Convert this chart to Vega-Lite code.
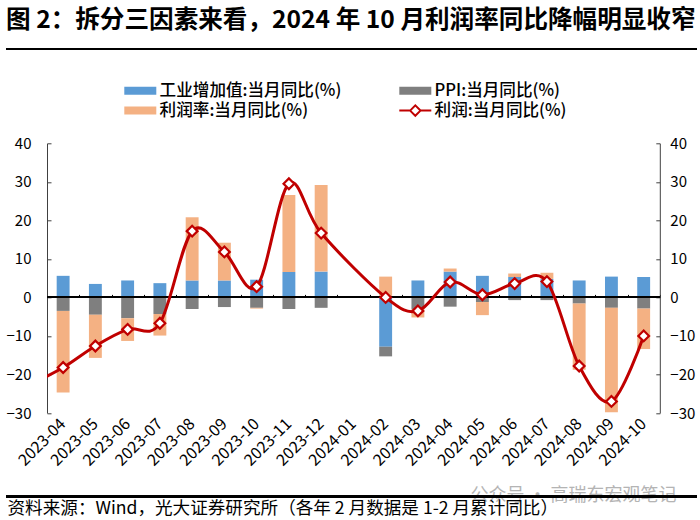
{
"$schema":"https://vega.github.io/schema/vega-lite/v6.json",
"width":612.8,"height":269.7,
"autosize":"none",
"padding":{"left":47,"top":143.3,"right":40.2,"bottom":107},
"background":"white",
"title":{"text":"图 2：拆分三因素来看，2024 年 10 月利润率同比降幅明显收窄","anchor":"start","frame":"group","dx":-41,"dy":10,"offset":0,"font":"Noto Sans CJK SC","fontSize":24.6,"fontWeight":"bold","color":"#000000","baseline":"bottom"},
"config":{"view":{"stroke":null},"font":"Noto Sans CJK SC"},
"datasets":{
"bars":[
{"month":"2023-04","series":"工业增加值:当月同比(%)","n":1,"value":5.6},{"month":"2023-04","series":"PPI:当月同比(%)","n":2,"value":-3.5},{"month":"2023-04","series":"利润率:当月同比(%)","n":3,"value":-21.2},
{"month":"2023-05","series":"工业增加值:当月同比(%)","n":1,"value":3.5},{"month":"2023-05","series":"PPI:当月同比(%)","n":2,"value":-4.5},{"month":"2023-05","series":"利润率:当月同比(%)","n":3,"value":-11.2},
{"month":"2023-06","series":"工业增加值:当月同比(%)","n":1,"value":4.4},{"month":"2023-06","series":"PPI:当月同比(%)","n":2,"value":-5.4},{"month":"2023-06","series":"利润率:当月同比(%)","n":3,"value":-5.9},
{"month":"2023-07","series":"工业增加值:当月同比(%)","n":1,"value":3.7},{"month":"2023-07","series":"PPI:当月同比(%)","n":2,"value":-4.3},{"month":"2023-07","series":"利润率:当月同比(%)","n":3,"value":-5.6},
{"month":"2023-08","series":"工业增加值:当月同比(%)","n":1,"value":4.4},{"month":"2023-08","series":"PPI:当月同比(%)","n":2,"value":-3.0},{"month":"2023-08","series":"利润率:当月同比(%)","n":3,"value":16.4},
{"month":"2023-09","series":"工业增加值:当月同比(%)","n":1,"value":4.4},{"month":"2023-09","series":"PPI:当月同比(%)","n":2,"value":-2.5},{"month":"2023-09","series":"利润率:当月同比(%)","n":3,"value":9.8},
{"month":"2023-10","series":"工业增加值:当月同比(%)","n":1,"value":4.6},{"month":"2023-10","series":"PPI:当月同比(%)","n":2,"value":-2.7},{"month":"2023-10","series":"利润率:当月同比(%)","n":3,"value":-0.2},
{"month":"2023-11","series":"工业增加值:当月同比(%)","n":1,"value":6.6},{"month":"2023-11","series":"PPI:当月同比(%)","n":2,"value":-3.0},{"month":"2023-11","series":"利润率:当月同比(%)","n":3,"value":20.0},
{"month":"2023-12","series":"工业增加值:当月同比(%)","n":1,"value":6.7},{"month":"2023-12","series":"PPI:当月同比(%)","n":2,"value":-2.7},{"month":"2023-12","series":"利润率:当月同比(%)","n":3,"value":22.5},
{"month":"2024-02","series":"工业增加值:当月同比(%)","n":1,"value":-12.8},{"month":"2024-02","series":"PPI:当月同比(%)","n":2,"value":-2.5},{"month":"2024-02","series":"利润率:当月同比(%)","n":3,"value":5.4},
{"month":"2024-03","series":"工业增加值:当月同比(%)","n":1,"value":4.4},{"month":"2024-03","series":"PPI:当月同比(%)","n":2,"value":-3.0},{"month":"2024-03","series":"利润率:当月同比(%)","n":3,"value":-2.2},
{"month":"2024-04","series":"工业增加值:当月同比(%)","n":1,"value":6.7},{"month":"2024-04","series":"PPI:当月同比(%)","n":2,"value":-2.4},{"month":"2024-04","series":"利润率:当月同比(%)","n":3,"value":0.8},
{"month":"2024-05","series":"工业增加值:当月同比(%)","n":1,"value":5.6},{"month":"2024-05","series":"PPI:当月同比(%)","n":2,"value":-1.2},{"month":"2024-05","series":"利润率:当月同比(%)","n":3,"value":-3.4},
{"month":"2024-06","series":"工业增加值:当月同比(%)","n":1,"value":5.3},{"month":"2024-06","series":"PPI:当月同比(%)","n":2,"value":-0.7},{"month":"2024-06","series":"利润率:当月同比(%)","n":3,"value":0.9},
{"month":"2024-07","series":"工业增加值:当月同比(%)","n":1,"value":4.8},{"month":"2024-07","series":"PPI:当月同比(%)","n":2,"value":-0.7},{"month":"2024-07","series":"利润率:当月同比(%)","n":3,"value":1.6},
{"month":"2024-08","series":"工业增加值:当月同比(%)","n":1,"value":4.4},{"month":"2024-08","series":"PPI:当月同比(%)","n":2,"value":-1.6},{"month":"2024-08","series":"利润率:当月同比(%)","n":3,"value":-17.2},
{"month":"2024-09","series":"工业增加值:当月同比(%)","n":1,"value":5.4},{"month":"2024-09","series":"PPI:当月同比(%)","n":2,"value":-2.7},{"month":"2024-09","series":"利润率:当月同比(%)","n":3,"value":-27.1},
{"month":"2024-10","series":"工业增加值:当月同比(%)","n":1,"value":5.3},{"month":"2024-10","series":"PPI:当月同比(%)","n":2,"value":-2.9},{"month":"2024-10","series":"利润率:当月同比(%)","n":3,"value":-10.5}
],
"profit":[
{"month":"2023-03","value":-22.5},{"month":"2023-04","value":-18.2},{"month":"2023-05","value":-12.6},{"month":"2023-06","value":-8.3},{"month":"2023-07","value":-6.7},{"month":"2023-08","value":17.2},{"month":"2023-09","value":11.8},{"month":"2023-10","value":2.8},{"month":"2023-11","value":29.5},{"month":"2023-12","value":16.7},{"month":"2024-02","value":0},{"month":"2024-03","value":-3.5},{"month":"2024-04","value":4.0},{"month":"2024-05","value":0.7},{"month":"2024-06","value":3.6},{"month":"2024-07","value":4.1},{"month":"2024-08","value":-17.8},{"month":"2024-09","value":-27.0},{"month":"2024-10","value":-10.0}
]
},
"data":{"name":"bars"},
"resolve":{"scale":{"x":"independent","color":"independent"},"axis":{"y":"independent"}},
"layer":[
{"mark":{"type":"bar","width":{"band":0.4}},
 "encoding":{
  "x":{"field":"month","type":"ordinal","scale":{"type":"band","paddingInner":0,"paddingOuter":0,"domain":["2023-04","2023-05","2023-06","2023-07","2023-08","2023-09","2023-10","2023-11","2023-12","2024-01","2024-02","2024-03","2024-04","2024-05","2024-06","2024-07","2024-08","2024-09","2024-10"]},
   "axis":{"orient":"bottom","offset":-115.6,"labels":false,"domain":false,"ticks":true,"tickBand":"extent","tickSize":-3,"tickColor":"#000000","tickWidth":1,"grid":false,"title":"公众号 · 高瑞东宏观笔记","titleX":423,"titleY":198,"titleAlign":"left","titleBaseline":"middle","titleFontSize":18,"titleFontWeight":"normal","titleColor":"#B4B4B4","titleFont":"Noto Sans CJK SC"}},
  "y":{"field":"value","type":"quantitative","scale":{"domain":[-30,40],"nice":false},
   "axis":{"orient":"left","values":[-30,-20,-10,0,10,20,30,40],"grid":false,"title":null,"domainColor":"#404040","tickColor":"#404040","tickSize":-4,"labelPadding":20,"labelFontSize":15,"labelColor":"#000000","labelFont":"Noto Sans CJK SC"}},
  "color":{"field":"series","type":"nominal",
   "scale":{"domain":["工业增加值:当月同比(%)","利润率:当月同比(%)","PPI:当月同比(%)","利润:当月同比(%)"],"range":["#5B9BD5","#F4B183","#7F7F7F","#FFFFFF"]},
   "legend":{"orient":"none","legendX":85,"legendY":-61,"columns":2,"title":null,"padding":0,"columnPadding":53,"rowPadding":2,"symbolSize":64,"labelFontSize":16.6,"labelFontWeight":500,"labelColor":"#000000","labelFont":"Noto Sans CJK SC","labelLimit":300,"labelOffset":11,"symbolOpacity":1,
    "encode":{"symbols":{"update":{
     "shape":{"signal":"datum.value==='利润:当月同比(%)' ? 'M-4,0H-1.3M1.3,0H4M-1.3,0L0,-1.3L1.3,0L0,1.3Z' : 'M-4,-1H4V1H-4Z'"},
     "stroke":{"signal":"datum.value==='利润:当月同比(%)' ? '#C00000' : 'transparent'"},
     "strokeWidth":{"value":2}
    }}}}},
  "order":{"field":"n","type":"quantitative"}
 }},
{"mark":{"type":"bar","opacity":0},
 "encoding":{
  "x":{"field":"month","type":"ordinal","scale":{"type":"band","paddingInner":0,"paddingOuter":0,"domain":["2023-04","2023-05","2023-06","2023-07","2023-08","2023-09","2023-10","2023-11","2023-12","2024-01","2024-02","2024-03","2024-04","2024-05","2024-06","2024-07","2024-08","2024-09","2024-10"]},
   "axis":{"orient":"bottom","domain":false,"ticks":false,"grid":false,"labelAngle":-45,"labelAlign":"right","labelBaseline":"middle","labelPadding":8,"labelFontSize":16,"labelColor":"#000000","labelFont":"Noto Sans CJK SC","title":"资料来源：Wind，光大证券研究所（各年 2 月数据是 1-2 月累计同比）","titleX":-40,"titleY":95,"titleAlign":"left","titleBaseline":"middle","titleFontSize":17.6,"titleFontWeight":"normal","titleColor":"#000000","titleFont":"Noto Sans CJK SC"}},
  "y":{"field":"value","type":"quantitative","stack":null,"scale":{"domain":[-30,40],"nice":false},
   "axis":{"orient":"right","values":[-30,-20,-10,0,10,20,30,40],"grid":false,"title":null,"domainColor":"#404040","tickColor":"#404040","tickSize":-4,"labelPadding":14,"labelFontSize":15,"labelColor":"#000000","labelFont":"Noto Sans CJK SC"}}
 }},
{"mark":{"type":"rule","color":"#000000","strokeWidth":1.2},
 "encoding":{"y":{"datum":0,"type":"quantitative","axis":null},"x":{"value":0},"x2":{"value":612.8}}},
{"mark":{"type":"rule","color":"#000000","strokeWidth":1.5},
 "encoding":{"y":{"datum":64.55,"type":"quantitative","axis":null},"x":{"value":-41},"x2":{"value":650}}},
{"mark":{"type":"rule","color":"#000000","strokeWidth":1.5},
 "encoding":{"y":{"datum":-51.7,"type":"quantitative","axis":null},"x":{"value":-41},"x2":{"value":650}}},
{"data":{"name":"profit"},
 "mark":{"type":"line","color":"#C00000","strokeWidth":3,"interpolate":"cardinal","tension":0,"clip":true},
 "encoding":{
  "x":{"field":"month","type":"ordinal","axis":null,"sort":null,"scale":{"type":"point","padding":0,"range":[-16.12,596.68],"domain":["2023-03","2023-04","2023-05","2023-06","2023-07","2023-08","2023-09","2023-10","2023-11","2023-12","2024-01","2024-02","2024-03","2024-04","2024-05","2024-06","2024-07","2024-08","2024-09","2024-10"]}},
  "y":{"field":"value","type":"quantitative","axis":null}
 }},
{"data":{"name":"profit"},
 "mark":{"type":"point","shape":"diamond","filled":true,"fill":"#FFFFFF","stroke":"#C00000","strokeWidth":2.2,"size":115,"opacity":1,"clip":true},
 "encoding":{
  "x":{"field":"month","type":"ordinal","axis":null,"sort":null,"scale":{"type":"point","padding":0,"range":[-16.12,596.68],"domain":["2023-03","2023-04","2023-05","2023-06","2023-07","2023-08","2023-09","2023-10","2023-11","2023-12","2024-01","2024-02","2024-03","2024-04","2024-05","2024-06","2024-07","2024-08","2024-09","2024-10"]}},
  "y":{"field":"value","type":"quantitative","axis":null}
 }}
]
}
